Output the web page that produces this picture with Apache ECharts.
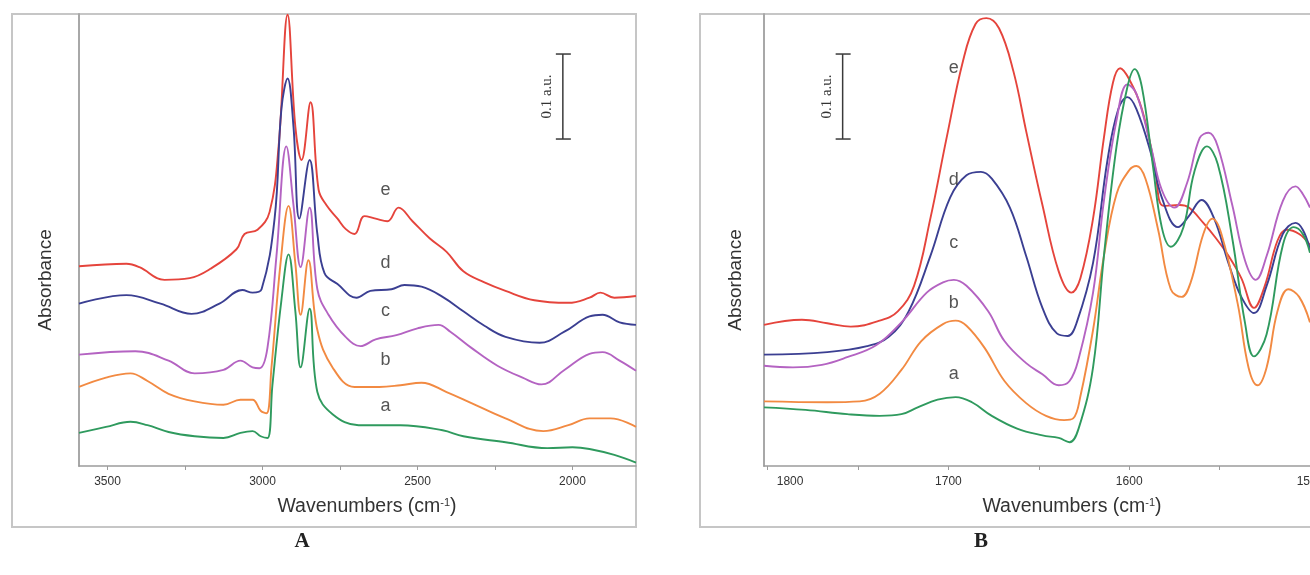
<!DOCTYPE html>
<html>
<head>
<meta charset="utf-8">
<script src="https://cdn.jsdelivr.net/npm/echarts@6/dist/echarts.min.js"></script>
<style>
html,body{margin:0;padding:0;background:#fff;}
#chart{width:1310px;height:575px;}
</style>
</head>
<body>
<div id="chart"></div>
<script>
// ---------- Panel A (3600-1800 cm-1) : [wavenumber, absorbance] ----------
const specA_e = [[3592,0.235],[3439,0.238],[3397,0.234],[3316,0.219],[3235,0.221],[3168,0.232],[3084,0.255],[3058,0.273],[3016,0.278],[2977,0.299],[2948,0.376],[2919,0.531],[2894,0.399],[2874,0.360],[2845,0.428],[2819,0.325],[2794,0.307],[2758,0.291],[2732,0.279],[2703,0.273],[2671,0.294],[2635,0.291],[2597,0.288],[2561,0.304],[2516,0.288],[2461,0.268],[2406,0.252],[2352,0.229],[2284,0.216],[2216,0.206],[2123,0.195],[2013,0.192],[1945,0.198],[1910,0.204],[1865,0.198],[1795,0.200]];
const specA_d = [[3592,0.191],[3439,0.201],[3329,0.191],[3229,0.179],[3139,0.191],[3065,0.207],[3032,0.204],[3003,0.208],[2961,0.291],[2939,0.420],[2919,0.456],[2900,0.399],[2881,0.291],[2848,0.360],[2823,0.273],[2800,0.227],[2758,0.214],[2697,0.198],[2652,0.206],[2584,0.208],[2542,0.213],[2487,0.211],[2419,0.199],[2352,0.182],[2284,0.165],[2216,0.152],[2106,0.145],[2026,0.158],[1945,0.176],[1903,0.178],[1848,0.169],[1795,0.166]];
const specA_c = [[3592,0.131],[3410,0.135],[3303,0.124],[3219,0.109],[3126,0.113],[3071,0.124],[3032,0.116],[3010,0.115],[2984,0.139],[2955,0.247],[2923,0.376],[2900,0.307],[2877,0.234],[2848,0.304],[2823,0.208],[2787,0.178],[2732,0.152],[2684,0.141],[2635,0.149],[2568,0.154],[2500,0.162],[2432,0.166],[2394,0.158],[2326,0.139],[2242,0.118],[2161,0.104],[2100,0.096],[2026,0.113],[1945,0.132],[1903,0.134],[1848,0.124],[1795,0.112]];
const specA_b = [[3592,0.093],[3505,0.104],[3426,0.109],[3371,0.100],[3303,0.085],[3219,0.076],[3126,0.072],[3071,0.078],[3032,0.078],[3006,0.065],[2987,0.062],[2971,0.116],[2942,0.238],[2916,0.306],[2894,0.238],[2877,0.178],[2852,0.242],[2823,0.160],[2774,0.116],[2703,0.093],[2623,0.093],[2555,0.095],[2487,0.098],[2406,0.087],[2326,0.074],[2216,0.056],[2094,0.041],[2013,0.048],[1945,0.056],[1877,0.056],[1795,0.046]];
const specA_a = [[3592,0.039],[3505,0.046],[3426,0.052],[3371,0.048],[3303,0.040],[3219,0.035],[3126,0.033],[3071,0.039],[3032,0.041],[3006,0.035],[2984,0.033],[2968,0.095],[2939,0.195],[2916,0.249],[2894,0.182],[2877,0.116],[2848,0.185],[2823,0.087],[2774,0.061],[2690,0.048],[2555,0.048],[2419,0.042],[2352,0.035],[2216,0.028],[2081,0.021],[2000,0.022],[1945,0.020],[1865,0.013],[1795,0.004]];

// ---------- Panel B (1800-1500 cm-1) ----------
const specB_e = [[1802,0.166],[1781,0.172],[1767,0.168],[1754,0.164],[1738,0.171],[1728,0.182],[1719,0.212],[1710,0.291],[1701,0.386],[1692,0.476],[1685,0.520],[1679,0.527],[1672,0.515],[1664,0.464],[1657,0.394],[1648,0.307],[1639,0.229],[1632,0.204],[1627,0.221],[1620,0.291],[1614,0.386],[1609,0.451],[1605,0.468],[1600,0.455],[1593,0.420],[1586,0.355],[1581,0.306],[1572,0.307],[1567,0.304],[1559,0.286],[1552,0.268],[1545,0.247],[1538,0.221],[1531,0.186],[1525,0.212],[1518,0.265],[1513,0.278],[1506,0.273],[1500,0.260]];
const specB_d = [[1802,0.131],[1767,0.134],[1745,0.141],[1733,0.152],[1722,0.182],[1710,0.247],[1699,0.316],[1690,0.342],[1682,0.346],[1676,0.338],[1666,0.304],[1657,0.247],[1648,0.186],[1640,0.156],[1634,0.153],[1629,0.169],[1620,0.239],[1612,0.360],[1606,0.420],[1601,0.434],[1596,0.420],[1588,0.368],[1582,0.316],[1573,0.281],[1567,0.294],[1560,0.313],[1553,0.291],[1545,0.238],[1538,0.199],[1531,0.180],[1524,0.212],[1515,0.273],[1508,0.286],[1504,0.278],[1500,0.255]];
const specB_c = [[1802,0.118],[1786,0.116],[1770,0.119],[1756,0.128],[1740,0.142],[1726,0.169],[1712,0.204],[1703,0.216],[1697,0.219],[1690,0.212],[1678,0.182],[1669,0.147],[1657,0.121],[1648,0.108],[1639,0.095],[1633,0.100],[1628,0.126],[1620,0.204],[1614,0.312],[1607,0.407],[1601,0.449],[1596,0.438],[1588,0.376],[1582,0.325],[1575,0.304],[1568,0.333],[1561,0.386],[1556,0.392],[1551,0.376],[1543,0.307],[1536,0.242],[1530,0.219],[1524,0.247],[1515,0.312],[1508,0.329],[1504,0.320],[1500,0.304]];
const specB_b = [[1802,0.076],[1767,0.075],[1749,0.076],[1738,0.085],[1726,0.113],[1715,0.147],[1703,0.167],[1696,0.171],[1690,0.165],[1680,0.139],[1669,0.100],[1657,0.074],[1646,0.059],[1636,0.054],[1631,0.056],[1627,0.082],[1620,0.160],[1614,0.247],[1607,0.320],[1600,0.348],[1596,0.353],[1591,0.338],[1584,0.278],[1577,0.208],[1571,0.199],[1566,0.216],[1559,0.273],[1554,0.291],[1549,0.273],[1540,0.191],[1534,0.116],[1529,0.095],[1524,0.116],[1518,0.182],[1512,0.208],[1506,0.199],[1500,0.169]];
const specB_a = [[1802,0.069],[1779,0.066],[1756,0.061],[1738,0.059],[1726,0.061],[1717,0.069],[1706,0.078],[1696,0.081],[1687,0.075],[1676,0.059],[1662,0.044],[1648,0.036],[1639,0.033],[1633,0.028],[1628,0.044],[1620,0.116],[1614,0.247],[1607,0.376],[1601,0.446],[1597,0.467],[1593,0.446],[1587,0.355],[1582,0.281],[1577,0.258],[1570,0.281],[1564,0.346],[1557,0.376],[1551,0.355],[1543,0.268],[1536,0.169],[1531,0.129],[1524,0.155],[1515,0.260],[1509,0.281],[1504,0.273],[1500,0.251]];

// ---------- axes / annotations ----------
const ticksA = [2000,2250,2500,2750,3000,3250,3500];
const labelsA = [2000,2500,3000,3500];
const ticksB = [1500,1550,1600,1650,1700,1750,1800];
const labelsB = [1500,1600,1700,1800];
const curveNames = ['e','d','c','b','a'];
const curveLabelsA = [[2603,0.325,'e'],[2603,0.239,'d'],[2603,0.182,'c'],[2603,0.125,'b'],[2603,0.071,'a']];
const curveLabelsB = [[1697,0.468,'e'],[1697,0.336,'d'],[1697,0.262,'c'],[1697,0.192,'b'],[1697,0.108,'a']];
const scaleBarA = [[2031,0.3847,0.4847]];
const scaleBarB = [[1758.5,0.3847,0.4847]];
const scaleText = '0.1 a.u.';

const colors = {e:'#e5443c', d:'#3b3f92', c:'#b463c2', b:'#f28a42', a:'#2f9a5e'};
const FONT = '"Liberation Sans", Arial, sans-serif';
const SERIF = '"Liberation Serif", "Times New Roman", serif';

const chart = echarts.init(document.getElementById('chart'), null, {renderer:'canvas'});

function xAxisCfg(idx, min, max, ticks, labels, fmt){
  return {
    gridIndex: idx, type:'value', min:min, max:max, inverse:true,
    axisLine:{show:true, onZero:false, lineStyle:{color:'#9c9c9c', width:1.5}},
    axisTick:{show:true, customValues:ticks, length:4, lineStyle:{color:'#9c9c9c', width:1}},
    axisLabel:{show:true, customValues:labels, fontSize:12, color:'#333', margin:10, fontFamily:FONT,
      hideOverlap:false,
      formatter: fmt || (v => String(v)),
      rich:{s:{fontSize:12, color:'#333', fontFamily:FONT, padding:[0,0,0,45]}}},
    splitLine:{show:false}
  };
}
function yAxisCfg(idx){
  return {
    gridIndex: idx, type:'value', min:0, max:0.5318,
    axisLine:{show:true, onZero:false, lineStyle:{color:'#a8a8a8', width:2}},
    axisTick:{show:false}, axisLabel:{show:false}, splitLine:{show:false}
  };
}
function scaleBarRender(params, api){
  const x = api.value(0);
  const p0 = api.coord([x, api.value(1)]);
  const p1 = api.coord([x, api.value(2)]);
  const c = '#3a3a3a';
  return {type:'group', children:[
    {type:'line', shape:{x1:p0[0], y1:p0[1], x2:p1[0], y2:p1[1]}, style:{stroke:c, lineWidth:1.5}},
    {type:'line', shape:{x1:p0[0]-7, y1:p0[1], x2:p0[0]+8, y2:p0[1]}, style:{stroke:c, lineWidth:1.5}},
    {type:'line', shape:{x1:p1[0]-7, y1:p1[1], x2:p1[0]+8, y2:p1[1]}, style:{stroke:c, lineWidth:1.5}},
    {type:'text', x:p0[0]-16, y:(p0[1]+p1[1])/2, rotation:Math.PI/2,
      style:{text:scaleText, font:'15px ' + SERIF, fill:'#333', align:'center', verticalAlign:'middle'}}
  ]};
}
function lineSeries(data, name, gi){
  return {type:'line', name:name, data:data, xAxisIndex:gi, yAxisIndex:gi, showSymbol:false, symbol:'none',
    smooth:0.4, lineStyle:{color:colors[name], width:1.9}, silent:true, z:3};
}
function labelSeries(data, gi){
  return {type:'scatter', data:data, xAxisIndex:gi, yAxisIndex:gi, symbol:'circle', symbolSize:1,
    itemStyle:{color:'rgba(0,0,0,0)'}, silent:true, z:5,
    label:{show:true, position:'inside', formatter:p => p.data[2], fontSize:18, color:'#2a2a2a', fontFamily:FONT}};
}

const specsA = [specA_e, specA_d, specA_c, specA_b, specA_a];
const specsB = [specB_e, specB_d, specB_c, specB_b, specB_a];
const series = [];
specsA.forEach((d,i) => series.push(lineSeries(d, curveNames[i], 0)));
specsB.forEach((d,i) => series.push(lineSeries(d, curveNames[i], 1)));
series.push(labelSeries(curveLabelsA, 0));
series.push(labelSeries(curveLabelsB, 1));
series.push({type:'custom', xAxisIndex:0, yAxisIndex:0, data:scaleBarA, renderItem:scaleBarRender, silent:true, clip:false});
series.push({type:'custom', xAxisIndex:1, yAxisIndex:1, data:scaleBarB, renderItem:scaleBarRender, silent:true, clip:false});

function xTitle(cx, cy){
  return {type:'text', x:cx, y:cy, silent:true,
    style:{text:'{a|Wavenumbers (cm}{s|-1}{a|)}', align:'center', verticalAlign:'middle',
      rich:{a:{fontSize:19.5, fontFamily:FONT, fill:'#333', color:'#333'},
            s:{fontSize:11, fontFamily:FONT, fill:'#333', color:'#333', verticalAlign:'top', padding:[0,0,9,0]}}}};
}
function yTitle(cx, cy){
  return {type:'text', x:cx, y:cy, rotation:Math.PI/2, silent:true,
    style:{text:'Absorbance', font:'19px ' + FONT, fill:'#333', align:'center', verticalAlign:'middle'}};
}

chart.setOption({
  animation:false,
  backgroundColor:'#fff',
  grid:[
    {left:79, top:14, width:557, height:452, containLabel:false, outerBoundsMode:'none'},
    {left:764, top:14, width:546, height:452, containLabel:false, outerBoundsMode:'none'}
  ],
  xAxis:[
    xAxisCfg(0, 1795, 3592, ticksA, labelsA),
    xAxisCfg(1, 1500, 1802, ticksB, labelsB, v => v === 1800 ? '{s|1800}' : String(v))
  ],
  yAxis:[yAxisCfg(0), yAxisCfg(1)],
  series:series,
  graphic:[
    {type:'rect', shape:{x:12, y:14, width:624, height:513}, style:{fill:'none', stroke:'#c6c6c6', lineWidth:2}, z:-1, silent:true},
    {type:'rect', shape:{x:700, y:14, width:640, height:513}, style:{fill:'none', stroke:'#c6c6c6', lineWidth:2}, z:-1, silent:true},
    xTitle(367, 507), xTitle(1072, 507),
    yTitle(46, 280), yTitle(736, 280),
    {type:'text', x:302, y:542, silent:true, style:{text:'A', font:'bold 21px ' + SERIF, fill:'#222', align:'center', verticalAlign:'middle'}},
    {type:'text', x:981, y:542, silent:true, style:{text:'B', font:'bold 21px ' + SERIF, fill:'#222', align:'center', verticalAlign:'middle'}}
  ]
});
</script>
</body>
</html>
